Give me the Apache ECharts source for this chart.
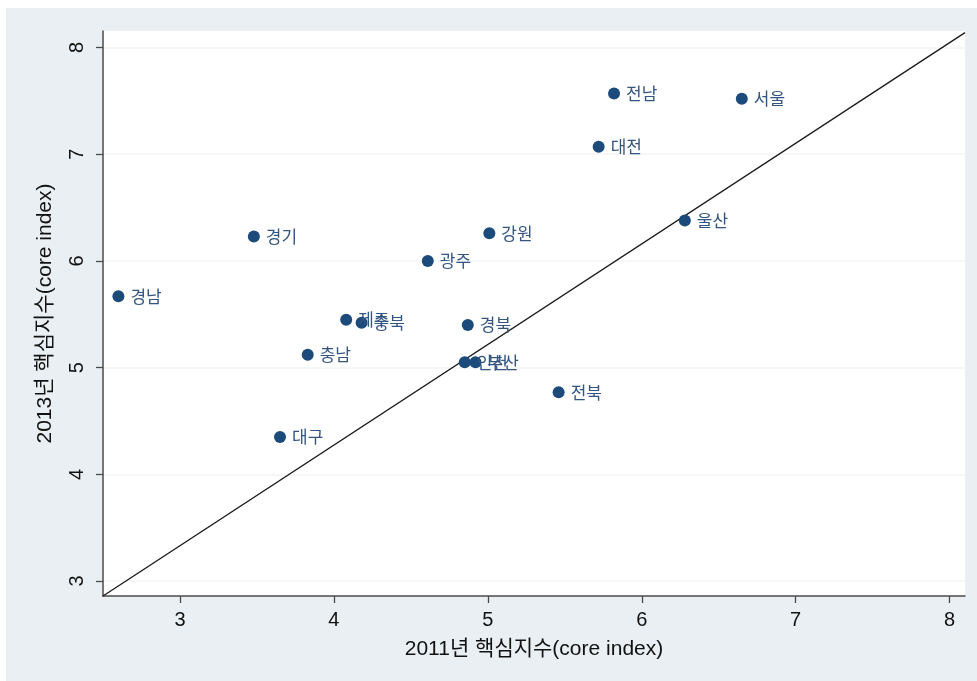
<!DOCTYPE html>
<html>
<head>
<meta charset="utf-8">
<script src="https://cdn.jsdelivr.net/npm/echarts@6/dist/echarts.min.js"></script>
<style>
  html, body { margin: 0; padding: 0; background: #fff; }
  #chart { width: 977px; height: 681px; }
</style>
</head>
<body>
<div id="chart"></div>
<script>
const regions = ["경남", "경기", "충남", "대구", "제주", "충북", "광주", "강원", "경북", "인천", "부산", "전북", "대전", "전남", "울산", "서울"];
const core2011 = [2.60, 3.48, 3.83, 3.65, 4.08, 4.18, 4.61, 5.01, 4.87, 4.85, 4.92, 5.46, 5.72, 5.82, 6.28, 6.65];
const core2013 = [5.67, 6.23, 5.12, 4.35, 5.45, 5.42, 6.00, 6.26, 5.40, 5.05, 5.05, 4.77, 7.07, 7.57, 6.38, 7.52];

// reference line end points
const lineX = [2.5, 8.1];
const lineY = [2.86, 8.14];

const xTicks = [3, 4, 5, 6, 7, 8];
const yTicks = [3, 4, 5, 6, 7, 8];

const font = "'Liberation Sans', Arial, 'Noto Sans CJK KR', sans-serif";
const axisColor = "#4a4a4a";

const chart = echarts.init(document.getElementById("chart"));

const option = {
  animation: false,
  graphic: [
    {
      type: "rect",
      z: -10,
      shape: { x: 6, y: 8, width: 971, height: 673 },
      style: { fill: "#e9eff2" },
    },
  ],
  grid: {
    left: 103,
    right: 12,
    top: 31,
    bottom: 85,
    show: true,
    backgroundColor: "#ffffff",
    borderWidth: 0,
  },
  xAxis: {
    type: "value",
    min: 2.5,
    max: 8.1,
    name: "2011년 핵심지수(core index)",
    nameLocation: "middle",
    nameGap: 43,
    nameTextStyle: { fontFamily: font, fontSize: 21, color: "#111" },
    axisLine: { show: true, onZero: false, lineStyle: { color: axisColor, width: 1.5 } },
    axisTick: { show: true, length: 7, customValues: xTicks, lineStyle: { color: axisColor, width: 1.3 } },
    axisLabel: { customValues: xTicks, margin: 14, fontFamily: font, fontSize: 20, color: "#111" },
    splitLine: { show: false },
  },
  yAxis: {
    type: "value",
    min: 2.86,
    max: 8.155,
    name: "2013년 핵심지수(core index)",
    nameLocation: "middle",
    nameGap: 47,
    nameTextStyle: { fontFamily: font, fontSize: 21, color: "#111" },
    axisLine: { show: true, onZero: false, lineStyle: { color: axisColor, width: 1.5 } },
    axisTick: { show: true, length: 7, customValues: yTicks, lineStyle: { color: axisColor, width: 1.3 } },
    axisLabel: { customValues: yTicks, rotate: 90, margin: 16, fontFamily: font, fontSize: 20, color: "#111" },
    splitLine: { show: true, lineStyle: { color: "#f2f5f7", width: 1.5 } },
  },
  series: [
    {
      type: "line",
      data: lineX.map((x, i) => [x, lineY[i]]),
      symbol: "none",
      lineStyle: { color: "#1a1a1a", width: 1.3 },
      z: 3,
    },
    {
      type: "scatter",
      data: regions.map((name, i) => ({ name: name, value: [core2011[i], core2013[i]] })),
      symbolSize: 12,
      itemStyle: { color: "#1b4a7b", opacity: 1 },
      label: {
        show: true,
        position: "right",
        distance: 6,
        formatter: (p) => p.name,
        fontFamily: "'Noto Sans CJK KR', sans-serif",
        fontSize: 17,
        color: "#33557f",
      },
      z: 4,
    },
  ],
};

chart.setOption(option);
</script>
</body>
</html>
